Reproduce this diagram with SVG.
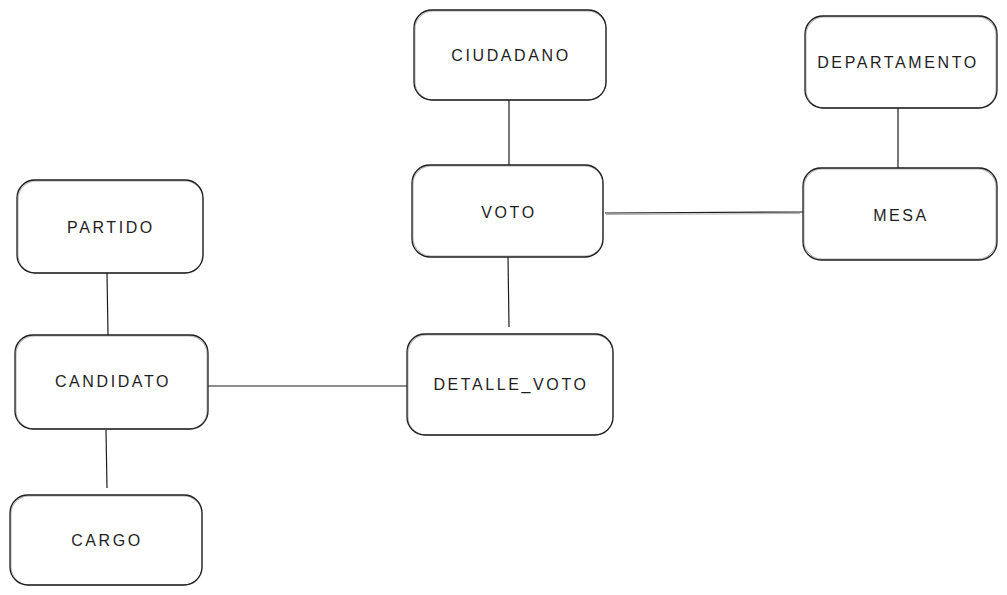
<svg xmlns="http://www.w3.org/2000/svg" width="1007" height="595" viewBox="0 0 1007 595">
<style>
.box{fill:#ffffff;stroke:#1e1e1e;stroke-width:1.3}
.box2{fill:none;stroke:#1e1e1e;stroke-width:0.6;opacity:0.6}
.lbl{font-family:"Liberation Sans",Arial,sans-serif;font-size:16px;letter-spacing:2.6px;fill:#1e1e1e;text-anchor:middle;dominant-baseline:central}
.conn line{stroke:#1e1e1e;stroke-width:1.2}
</style>
<rect width="1007" height="595" fill="#ffffff"/>
<g class="conn" id="connectors">
<line x1="509" y1="100" x2="509" y2="165"/>
<line x1="898" y1="108" x2="898" y2="168"/>
<line x1="605" y1="213" x2="803" y2="212"/>
<line x1="606" y1="214.5" x2="800" y2="213.5" style="stroke-width:0.6;opacity:0.6"/>
<line x1="508" y1="257" x2="509" y2="327"/>
<line x1="107" y1="273" x2="108" y2="335"/>
<line x1="106" y1="430" x2="107" y2="488"/>
<line x1="207" y1="386" x2="407" y2="386"/>
</g>
<g id="ciudadano">
<rect class="box" x="414" y="10" width="192" height="90" rx="18"/>
<rect class="box2" x="415" y="11" width="191" height="89" rx="18"/>
<text class="lbl" x="511" y="55">CIUDADANO</text>
</g>
<g id="departamento">
<rect class="box" x="805" y="16" width="192" height="92" rx="18"/>
<rect class="box2" x="806" y="17" width="190" height="91" rx="18"/>
<text class="lbl" x="898" y="62">DEPARTAMENTO</text>
</g>
<g id="voto">
<rect class="box" x="412" y="165" width="191" height="92" rx="18"/>
<rect class="box2" x="413" y="166" width="190" height="90" rx="18"/>
<text class="lbl" x="509" y="212">VOTO</text>
</g>
<g id="mesa">
<rect class="box" x="803" y="168" width="194" height="92" rx="18"/>
<rect class="box2" x="804" y="169" width="192" height="90" rx="18"/>
<text class="lbl" x="901" y="215">MESA</text>
</g>
<g id="partido">
<rect class="box" x="17" y="180" width="186" height="93" rx="18"/>
<rect class="box2" x="18" y="181" width="185" height="92" rx="18"/>
<text class="lbl" x="111" y="227">PARTIDO</text>
</g>
<g id="candidato">
<rect class="box" x="15" y="335" width="193" height="94" rx="18"/>
<rect class="box2" x="16" y="336" width="191" height="93" rx="18"/>
<text class="lbl" x="113" y="381">CANDIDATO</text>
</g>
<g id="detalle_voto">
<rect class="box" x="407" y="334" width="206" height="101" rx="18"/>
<rect class="box2" x="408" y="335" width="205" height="100" rx="18"/>
<text class="lbl" x="511" y="384">DETALLE_VOTO</text>
</g>
<g id="cargo">
<rect class="box" x="10" y="495" width="192" height="90" rx="18"/>
<rect class="box2" x="11" y="496" width="191" height="89" rx="18"/>
<text class="lbl" x="107" y="540">CARGO</text>
</g>
</svg>
